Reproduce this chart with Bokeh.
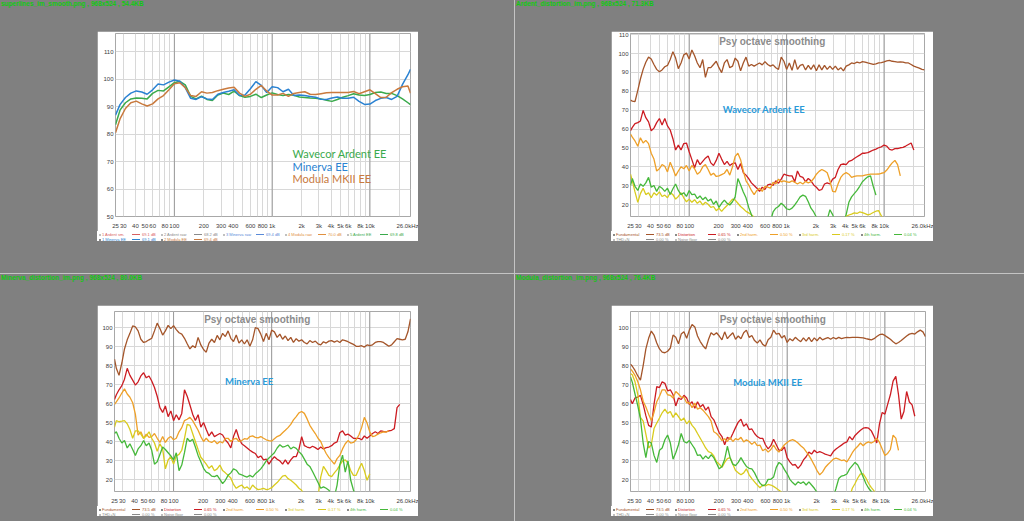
import numpy as np
from bokeh.plotting import figure
from bokeh.layouts import row, column
from bokeh.models import (Div, Spacer, FixedTicker, CustomJSTickFormatter, Span,
                          GlobalInlineStyleSheet)
from bokeh.core.properties import value
from bokeh.embed import file_html
from bokeh.resources import INLINE

N = float("nan")

# ---------------- axis / tick data ----------------
X_TICKS = [25, 30, 40, 50, 60, 80, 100, 200, 300, 400, 600, 800, 1000, 2000, 3000,
           4000, 5000, 6000, 8000, 10000, 26000]
X_MINOR = [70, 90, 500, 700, 900, 7000, 9000, 20000]
DECADES = [100, 1000, 10000]
Y_TICKS_SPL = [50, 60, 70, 80, 90, 100, 110]
Y_TICKS_DIST = [20, 30, 40, 50, 60, 70, 80, 90, 100, 110]

PANEL_TITLES = ["superlines_im_smooth.png , 968x524 , 54.4KB",
                "Ardent_distortion_im.png , 968x524 , 71.3KB",
                "Minerva_distortion_im.png , 968x524 , 80.0KB",
                "Modula_distortion_im.png , 968x524 , 76.4KB"]

# ---------------- top-left: superposition of the three speakers ----------------
TL_FREQ = [25, 27.8, 31.6, 35.9, 40.8, 46.4, 52.7, 59.9, 68.1, 77.4, 88.0, 100, 113.7, 129.2,
           146.8, 166.8, 189.6, 215.4, 244.8, 278.3, 316.2, 359.4, 408.4, 464.2, 527.5, 599.5,
           681.3, 774.3, 879.9, 1000, 1137, 1292, 1468, 1668, 1896, 2154, 2448, 2783, 3162,
           3594, 4084, 4642, 5275, 5995, 6813, 7743, 8799, 10000, 11370, 12920, 14680, 16680,
           18960, 21540, 24480, 26000]
TL_ARDENT = [83.4, 88.7, 91.4, 92.8, 93.1, 93.0, 92.8, 94.8, 95.9, 95.7, 97.2, 98.7, 99.2, 97.9,
             93.7, 92.8, 93.8, 92.6, 92.2, 94.2, 94.9, 94.4, 95.6, 94.0, 93.4, 93.7, 94.5, 93.3,
             94.2, 95.0, 94.4, 94.0, 94.4, 94.1, 93.5, 93.3, 93.1, 93.0, 92.8, 92.3, 91.9, 92.6,
             93.4, 94.0, 94.7, 94.2, 94.0, 94.4, 95.1, 95.3, 94.8, 94.8, 94.0, 92.8, 91.4, 90.7]
TL_MINERVA = [86.9, 90.7, 93.3, 94.9, 95.7, 95.3, 94.5, 96.1, 98.2, 97.9, 98.9, 99.7, 99.2, 96.9,
              93.0, 92.6, 93.6, 92.8, 92.6, 94.5, 95.1, 95.6, 96.1, 94.0, 94.2, 96.5, 99.1, 97.7,
              95.1, 97.2, 96.9, 95.4, 96.3, 94.0, 94.2, 94.0, 93.7, 93.4, 92.7, 92.6, 93.1, 93.5,
              93.0, 93.0, 93.4, 91.9, 90.8, 90.9, 92.2, 93.0, 93.3, 92.6, 93.7, 98.1, 101.6, 103.6]
TL_MODULA = [80.5, 85.5, 89.3, 91.4, 92.0, 91.0, 90.2, 91.0, 92.8, 94.0, 96.1, 98.3, 98.7, 96.9,
             94.0, 93.7, 95.4, 94.9, 95.1, 95.8, 96.3, 96.8, 97.0, 94.9, 93.7, 94.5, 96.3, 97.7,
             95.7, 94.2, 94.2, 94.8, 93.7, 94.8, 95.1, 95.4, 94.5, 94.4, 94.7, 95.0, 95.1, 95.1,
             95.1, 95.1, 95.5, 94.7, 95.4, 96.1, 94.7, 93.3, 93.4, 95.1, 96.3, 97.2, 97.5, 94.9]
TL_NAMES = ["Wavecor Ardent EE", "Minerva EE", "Modula MKII EE"]
TL_LEGEND_ROW1 = ["1 Ardent sm.", "2 Ardent raw", "3 Minerva raw", "4 Modula raw", "5 Ardent EE"]
TL_LEGEND_VALUES = ["69.1 dB", "68.2 dB", "69.4 dB", "70.0 dB", "69.8 dB"]
TL_LEGEND_ROW2 = ["1 Minerva EE", "2 Modula EE"]
TL_LEGEND_VALUES2 = ["69.1 dB", "69.4 dB"]

# ---------------- distortion panels (shared frequency axis) ----------------
DIST_FREQ = [25, 26.1, 27.8, 29.7, 31.6, 33.7, 35.9, 38.3, 40.8, 43.5, 46.4, 49.5, 52.7, 56.2,
             59.9, 63.9, 68.1, 72.6, 77.4, 82.5, 88.0, 93.8, 100, 106.6, 113.7, 121.2, 129.2,
             137.7, 146.8, 156.5, 166.8, 177.8, 189.6, 202.1, 215.4, 229.7, 244.8, 261.0, 278.3,
             296.6, 316.2, 337.1, 359.4, 383.1, 408.4, 435.4, 464.2, 494.8, 527.5, 562.3, 599.5,
             639.1, 681.3, 726.3, 774.3, 825.4, 879.9, 938.0, 1000, 1066, 1137, 1212, 1292, 1377,
             1468, 1565, 1668, 1778, 1896, 2021, 2154, 2297, 2448, 2610, 2783, 2966, 3162, 3371,
             3594, 3831, 4084, 4354, 4642, 4948, 5275, 5623, 5995, 6391, 6813, 7263, 7743, 8254,
             8799, 9380, 10000, 10660, 11370, 12120, 12920, 13770, 14680, 15650, 16680, 17780,
             18960, 20210, 21540, 22970, 24480, 26000]
DIST_NAMES = ["Fundamental", "Distortion", "2nd harm.", "3rd harm.", "4th harm."]
DIST_VALUES = ["73.5 dB", "0.65 %", "0.50 %", "0.17 %", "0.04 %"]
EXTRA_NAMES = ["THD+N", "Noise floor"]
EXTRA_VALUES = ["0.00 %", "0.00 %"]

ARD_FUND = [75.4,
 74.8, 74.5, 80.5, 86.5, 91.6, 95.4, 98.1, 97.1, 94.2, 91.6,
 90.3, 91.3, 93.0, 93.7, 96.8, 101.0, 97.6, 92.0, 95.0, 99.3,
 100.2, 97.1, 101.9, 98.8, 95.0, 92.5, 96.8, 87.4, 92.5, 92.5,
 94.2, 95.9, 92.5, 89.9, 95.0, 96.8, 92.5, 93.3, 97.6, 95.9,
 90.8, 95.0, 98.1, 93.3, 94.2, 93.3, 94.2, 95.0, 94.0, 95.7,
 94.2, 93.3, 94.0, 92.5, 91.6, 98.1, 95.9, 91.6, 95.0, 91.1,
 96.8, 91.6, 93.7, 94.2, 91.3, 93.7, 91.6, 94.0, 90.9, 94.0,
 91.3, 93.7, 91.6, 93.3, 91.6, 93.3, 91.3, 92.5, 90.8, 93.3,
 94.0, 95.0, 94.7, 95.4, 95.0, 95.7, 95.4, 95.0, 94.7, 94.2,
 94.5, 95.0, 95.2, 95.6, 96.1, 96.4, 95.9, 95.7, 95.4, 95.6,
 95.4, 95.0, 95.0, 94.2, 93.3, 92.8, 92.3, 91.6, 91.3]
ARD_THD = [59.1,
 60.9, 62.9, 63.4, 64.3, 69.9, 66.0, 63.8, 59.1, 60.5, 63.4,
 65.6, 62.2, 65.6, 61.7, 59.5, 54.9, 48.9, 51.5, 48.9, 52.3,
 52.6, 48.0, 43.8, 39.5, 43.8, 41.2, 42.9, 44.6, 45.8, 42.1,
 40.7, 43.4, 47.2, 44.1, 41.2, 42.9, 40.7, 41.7, 42.1, 38.6,
 41.7, 36.9, 35.6, 33.8, 31.5, 30.1, 28.7, 27.0, 29.2, 28.0,
 30.4, 30.9, 30.1, 32.6, 31.3, 33.5, 36.1, 35.6, 35.2, 35.2,
 32.1, 37.8, 34.9, 34.4, 32.1, 33.8, 32.6, 30.4, 29.2, 27.5,
 28.0, 30.9, 31.5, 30.9, 33.5, 34.4, 38.6, 41.2, 41.5, 41.2,
 42.9, 43.4, 44.4, 45.3, 46.2, 47.2, 47.2, 47.5, 48.2, 48.9,
 49.4, 50.1, 50.6, 51.5, 51.0, 49.2, 48.9, 49.6, 49.7, 50.1,
 50.3, 51.0, 51.8, 52.6, 48.9, N, N, N, N]
ARD_H2 = [57.4,
 55.7, 53.7, 50.9, 55.4, 52.6, 54.0, 52.3, 47.2, 44.1, 37.8,
 39.0, 41.2, 40.3, 37.3, 42.4, 39.0, 35.2, 37.8, 40.0, 39.0,
 40.7, 37.8, 40.7, 39.0, 36.1, 37.3, 40.0, 41.2, 38.6, 35.6,
 36.6, 34.9, 35.2, 35.9, 36.6, 38.6, 35.6, 40.0, 45.5, 47.2,
 43.8, 37.8, 32.6, 30.4, 27.5, 25.3, 27.5, 28.7, 27.0, 29.7,
 29.2, 28.7, 31.8, 30.9, 33.5, 32.1, 32.5, 32.1, 31.8, 32.6,
 31.8, 30.9, 31.8, 30.9, 32.3, 31.5, 32.1, 33.8, 36.1, 37.6,
 38.6, 37.9, 36.9, 32.6, 27.0, 26.7, 30.9, 34.4, 36.1, 36.9,
 36.1, 34.4, 34.9, 35.2, 35.2, 35.2, 35.6, 35.9, 36.1, 36.1,
 36.1, 36.2, 36.6, 36.9, 38.3, 40.3, 42.1, 43.4, 41.2, 35.2,
 N, N, N, N, N, N, N, N, N]
ARD_H3 = [36.1,
 32.6, 26.7, 21.2, 25.8, 28.7, 25.3, 26.3, 23.6, 26.3, 25.0,
 26.7, 24.3, 25.0, 23.6, 26.3, 25.3, 22.9, 24.3, 26.3, 23.6,
 21.5, 22.9, 21.2, 22.6, 20.7, 21.9, 19.8, 21.2, 20.2, 18.5,
 19.0, 16.8, 18.1, 16.4, 18.1, 19.5, 21.2, 22.9, 22.4, 20.7,
 19.0, 17.8, 16.4, 15.6, 14.7, 13.3, 12.0, 11.0, N, N,
 N, N, N, N, N, N, N, N, N, N,
 N, N, N, N, N, N, N, N, N, N,
 N, N, N, N, N, N, N, N, 11.0, 13.8,
 14.5, 15.0, 15.6, 15.3, 16.1, 15.8, 15.2, 14.6, 15.0, 15.8,
 16.5, 16.8, 14.0, 12.0, N, N, N, N, N, N,
 N, N, N, N, N, N, N, N, N]
ARD_H4 = [30.1,
 33.8, 29.7, 27.5, 30.9, 29.7, 31.5, 34.4, 29.2, 30.1, 27.0,
 29.7, 28.7, 27.0, 28.7, 25.3, 28.4, 30.9, 27.5, 25.3, 26.3,
 24.3, 27.4, 25.3, 25.6, 23.2, 24.6, 22.6, 23.9, 21.9, 22.9,
 20.2, 21.9, 18.5, 20.7, 22.4, 20.7, 19.8, 21.5, 24.1, 33.8,
 30.4, 26.7, 23.6, 18.5, 14.7, 9.6, N, N, N, N,
 N, 11.0, 16.1, 18.1, 19.0, 20.7, 19.5, 17.8, 17.3, 18.1,
 19.8, 21.9, 24.1, 25.0, 24.4, 21.5, 18.1, 16.1, 13.3, 10.0,
 N, N, 12.0, 17.3, 14.7, 11.0, N, N, 11.0, 14.7,
 21.2, 24.1, 25.8, 27.5, 29.7, 32.1, 33.5, 34.7, 35.2, 29.7,
 25.0, N, N, N, N, N, N, N, N, N,
 N, N, N, N, N, N, N, N, N]

MIN_FUND = [83.5,
 78.7, 75.0, 81.5, 88.9, 93.7, 97.1, 101.0, 100.5, 98.4, 94.0,
 92.3, 92.8, 93.7, 94.5, 98.4, 102.5, 99.6, 96.2, 98.4, 101.3,
 99.6, 101.2, 99.1, 97.4, 96.7, 94.5, 91.6, 88.9, 90.6, 89.6,
 95.0, 91.0, 88.6, 87.2, 92.0, 94.0, 92.3, 96.0, 93.7, 97.1,
 95.4, 98.4, 94.5, 92.8, 96.2, 92.0, 93.7, 91.5, 93.7, 90.3,
 93.7, 100.1, 99.6, 96.7, 92.8, 97.1, 93.7, 98.8, 97.9, 95.0,
 96.7, 94.0, 95.7, 93.3, 95.0, 92.3, 94.3, 93.0, 93.7, 92.3,
 91.6, 93.3, 92.3, 93.0, 91.6, 91.0, 92.7, 92.0, 93.0, 93.3,
 92.5, 93.2, 92.3, 93.7, 93.3, 92.7, 92.0, 91.3, 90.3, 90.3,
 90.6, 89.9, 91.0, 90.6, 91.1, 92.3, 92.8, 92.8, 92.3, 91.3,
 90.3, 91.0, 92.7, 94.3, 94.0, 93.7, 94.0, 97.9, 104.7]
MIN_THD = [62.3,
 64.8, 67.4, 69.6, 73.0, 78.7, 75.0, 72.5, 69.9, 71.6, 74.7,
 76.4, 73.7, 74.7, 72.0, 68.6, 64.0, 58.0, 55.5, 58.9, 53.3,
 56.3, 51.2, 54.3, 51.6, 55.0, 67.4, 64.0, 59.4, 54.6, 51.2,
 54.3, 47.8, 50.2, 46.5, 43.1, 45.3, 42.8, 43.6, 44.4, 43.6,
 41.1, 39.4, 36.8, 42.8, 46.5, 41.9, 39.0, 38.0, 36.8, 35.6,
 34.6, 33.9, 31.7, 32.6, 30.5, 30.9, 28.3, 30.5, 32.2, 30.9,
 30.0, 28.3, 30.5, 28.3, 30.5, 32.2, 32.2, 36.0, 42.8, 38.0,
 37.3, 36.8, 37.7, 37.0, 36.0, 37.3, 36.3, 37.0, 37.3, 38.0,
 39.4, 40.0, 44.8, 45.8, 43.6, 44.1, 43.1, 41.9, 41.9, 41.9,
 41.1, 43.1, 41.9, 43.1, 44.4, 45.3, 44.4, 45.8, 45.5, 45.3,
 45.8, 46.1, 47.0, 58.0, 59.7, N, N, N, N]
MIN_H2 = [59.7,
 61.1, 63.1, 65.7, 67.9, 65.2, 63.5, 60.6, 54.6, 43.6, 45.3,
 41.9, 44.1, 42.4, 42.8, 44.4, 41.9, 39.7, 42.8, 39.7, 41.9,
 42.8, 41.1, 41.9, 45.3, 47.5, 51.2, 51.9, 52.9, 51.2, 48.7,
 46.1, 42.8, 40.2, 41.9, 40.2, 39.7, 40.7, 39.0, 40.2, 39.4,
 41.9, 41.9, 40.2, 41.4, 41.9, 40.2, 40.7, 41.7, 41.4, 42.8,
 43.2, 42.4, 42.1, 42.8, 41.9, 41.1, 40.7, 40.4, 41.7, 42.8,
 43.4, 44.8, 46.1, 47.5, 49.2, 51.6, 53.3, 55.3, 56.0, 55.0,
 52.1, 48.7, 46.5, 44.4, 41.9, 40.2, 36.8, 33.9, 31.7, 30.0,
 28.3, 31.2, 32.9, 36.3, 39.0, 40.7, 39.4, 39.7, 41.1, 43.6,
 47.5, 52.9, 49.9, 45.3, 42.8, 43.2, 44.1, 44.8, 45.3, 45.2,
 45.8, N, N, N, N, N, N, N, N]
MIN_H3 = [47.8,
 51.2, 50.6, 50.9, 51.2, 49.5, 46.5, 41.9, 45.8, 45.8, 44.1,
 41.9, 43.1, 45.3, 41.9, 39.4, 35.1, 39.0, 36.3, 25.8, 30.5,
 32.2, 28.3, 32.6, 33.4, 35.6, 41.9, 49.2, 48.7, 44.4, 40.2,
 36.0, 31.9, 30.2, 28.3, 26.1, 27.5, 24.8, 25.8, 27.8, 24.9,
 23.7, 22.4, 21.0, 17.6, 15.6, 16.6, 17.3, 15.6, 16.3, 14.9,
 17.3, 15.9, 14.9, 15.1, 15.6, 14.9, 15.2, 15.9, 17.3, 18.6,
 20.3, 22.0, 22.4, 20.7, 19.8, 18.6, 17.3, 15.6, 14.6, 11.0,
 N, N, N, N, 11.0, 21.5, 27.1, 24.9, 22.4, 21.7,
 23.7, 25.4, 27.8, 30.0, 30.5, 28.8, 24.9, 22.4, 22.4, 25.8,
 28.8, 24.9, 19.8, 23.2, N, N, N, N, N, N,
 N, N, N, N, N, N, N, N, N]
MIN_H4 = [44.4,
 45.3, 41.9, 39.4, 40.7, 36.8, 39.0, 36.0, 32.9, 36.3, 38.0,
 40.7, 38.0, 39.4, 35.6, 28.3, 29.5, 33.4, 37.3, 36.0, 34.3,
 32.6, 30.5, 34.3, 24.9, 27.8, 34.3, 41.9, 40.2, 41.4, 37.3,
 32.9, 29.5, 26.1, 24.1, 23.4, 22.0, 21.7, 22.4, 20.3, 18.0,
 19.8, 22.4, 23.7, 25.8, 25.1, 23.2, 22.7, 22.0, 21.5, 22.4,
 21.5, 23.2, 24.4, 25.8, 27.8, 30.0, 31.5, 32.9, 34.3, 36.8,
 38.5, 37.3, 37.7, 38.3, 36.3, 37.3, 36.6, 34.9, 33.4, 30.9,
 28.3, 27.1, 24.4, 21.5, 18.6, 15.6, 16.3, 15.6, 14.6, 12.0,
 11.0, 17.3, 28.0, 33.0, 24.1, 30.0, 19.8, 14.7, 11.0, N,
 N, N, N, N, N, N, N, N, N, N,
 N, N, N, N, N, N, N, N, N]

MOD_FUND = [80.9,
 79.8, 77.6, 74.7, 72.5, 80.1, 88.9, 94.5, 98.3, 96.2, 92.0,
 88.9, 87.2, 86.9, 87.7, 89.4, 96.2, 95.0, 91.6, 96.7, 97.9,
 94.5, 98.8, 101.8, 100.5, 95.7, 92.8, 90.6, 88.9, 93.7, 97.4,
 96.2, 97.4, 95.7, 93.7, 97.9, 94.3, 96.0, 97.4, 94.0, 95.7,
 94.3, 97.4, 98.8, 95.0, 96.0, 93.3, 92.0, 93.7, 91.3, 90.3,
 93.7, 95.0, 98.8, 96.7, 97.1, 94.7, 96.0, 92.3, 94.3, 93.2,
 95.0, 93.7, 92.7, 94.7, 93.0, 95.0, 92.7, 94.7, 93.2, 95.0,
 93.7, 94.3, 94.9, 94.0, 94.9, 94.2, 95.0, 94.3, 94.7, 95.0,
 94.9, 95.0, 95.0, 95.0, 94.9, 94.7, 94.3, 94.0, 93.7, 94.3,
 95.4, 96.4, 96.7, 96.0, 95.0, 94.0, 92.7, 91.6, 92.3, 93.3,
 94.5, 95.7, 96.7, 97.1, 96.7, 97.9, 98.8, 97.9, 95.4]
MOD_THD = [62.3,
 60.1, 63.1, 63.5, 64.5, 59.7, 53.8, 48.7, 47.8, 59.7, 69.1,
 68.6, 71.6, 70.8, 66.9, 67.4, 64.8, 58.9, 63.1, 62.3, 64.5,
 63.1, 59.7, 61.1, 57.7, 61.1, 58.4, 59.7, 56.7, 58.4, 53.3,
 51.6, 48.2, 44.8, 42.8, 38.5, 42.4, 41.4, 44.4, 47.5, 50.4,
 51.9, 48.2, 49.5, 46.5, 46.8, 44.4, 42.8, 41.9, 41.9, 38.5,
 36.3, 38.0, 41.4, 38.5, 35.6, 35.6, 37.3, 31.7, 29.5, 27.8,
 28.1, 26.1, 27.8, 30.5, 32.2, 34.6, 33.6, 35.6, 34.3, 34.9,
 34.3, 33.6, 33.1, 32.6, 34.9, 36.3, 37.3, 38.3, 39.4, 40.0,
 42.8, 41.1, 43.4, 44.8, 46.1, 47.2, 47.5, 47.2, 45.8, 42.8,
 39.4, 49.5, 55.5, 54.6, 59.7, 64.8, 72.0, 74.5, 64.8, 52.0,
 56.0, 66.5, 61.0, 59.5, 53.5, N, N, N, N]
MOD_H2 = [78.4,
 77.2, 75.0, 71.6, 67.4, 61.4, 58.4, 54.6, 51.2, 55.5, 61.1,
 64.0, 67.4, 67.4, 64.8, 64.5, 63.1, 66.5, 65.2, 63.5, 63.5,
 60.6, 60.6, 58.0, 60.4, 57.2, 58.0, 56.7, 55.0, 53.3, 50.9,
 45.3, 44.4, 42.8, 40.7, 41.7, 40.2, 42.4, 40.2, 41.7, 41.1,
 42.4, 40.0, 41.1, 40.2, 38.7, 40.0, 38.0, 38.3, 35.3, 36.3,
 34.6, 36.0, 38.3, 36.0, 34.6, 36.6, 38.5, 39.7, 40.7, 41.2,
 40.5, 39.4, 38.0, 36.8, 34.9, 32.9, 30.5, 27.8, 24.9, 22.7,
 24.1, 26.5, 28.1, 29.5, 30.9, 31.5, 30.9, 30.2, 30.5, 29.5,
 31.7, 34.3, 36.3, 37.7, 39.4, 38.0, 39.4, 40.0, 39.4, 40.2,
 41.9, 39.7, 36.3, 32.9, 33.9, 36.0, 43.5, 42.0, 35.5, N,
 N, N, N, N, N, N, N, N, N]
MOD_H3 = [75.9,
 75.3, 71.6, 64.8, 52.9, 50.9, 44.1, 36.8, 38.5, 47.0, 49.9,
 52.6, 55.3, 57.2, 55.0, 56.0, 52.9, 55.3, 53.3, 51.2, 52.6,
 49.5, 51.2, 48.7, 47.0, 44.4, 41.9, 39.4, 36.8, 34.9, 34.3,
 32.6, 29.5, 28.3, 26.6, 29.2, 31.2, 31.7, 28.3, 24.9, 23.7,
 22.7, 23.7, 25.8, 22.7, 20.7, 19.0, 17.3, 15.9, 17.3, 16.9,
 17.6, 17.3, 16.6, 15.6, 14.6, 13.5, 11.0, N, N, N,
 N, N, N, N, N, N, N, N, N, N,
 N, N, N, N, N, N, N, N, N, N,
 11.0, 15.6, 18.1, 21.0, 23.2, 23.2, 21.0, 18.1, 15.9, 14.2,
 11.0, N, N, N, N, N, N, N, N, N,
 N, N, N, N, N, N, N, N, N]
MOD_H4 = [74.2,
 71.3, 65.2, 58.9, 52.1, 39.4, 31.7, 40.2, 39.4, 32.9, 29.2,
 35.6, 36.8, 41.1, 43.6, 39.4, 30.9, 34.3, 38.5, 44.4, 40.2,
 39.4, 40.7, 38.5, 36.3, 32.9, 33.2, 30.9, 32.6, 31.2, 33.2,
 31.7, 28.8, 25.8, 27.1, 30.9, 37.7, 31.7, 28.3, 27.5, 29.2,
 31.7, 29.2, 27.1, 26.1, 25.8, 23.7, 20.7, 18.3, 16.9, 17.6,
 20.3, 20.3, 21.5, 26.6, 29.2, 28.1, 25.4, 23.2, 20.3, 18.6,
 17.3, 19.0, 18.1, 19.0, 17.3, 19.0, 17.3, 15.6, 13.5, 11.0,
 N, N, N, N, 11.0, 15.6, 20.7, 22.0, 22.4, 23.1,
 25.8, 27.5, 29.2, 27.8, 24.9, 21.5, 18.1, 15.6, 13.9, 11.0,
 N, N, N, N, N, N, N, N, N, N,
 N, N, N, N, N, N, N, N, N]

for arr in (ARD_FUND, ARD_THD, ARD_H2, ARD_H3, ARD_H4, MIN_FUND, MIN_THD, MIN_H2, MIN_H3,
            MIN_H4, MOD_FUND, MOD_THD, MOD_H2, MOD_H3, MOD_H4):
    assert len(arr) == len(DIST_FREQ), len(arr)
for arr in (TL_ARDENT, TL_MINERVA, TL_MODULA):
    assert len(arr) == len(TL_FREQ), len(arr)

# ---------------- styles ----------------
DIST_COLORS = ["#a4552a", "#cc1c22", "#eea028", "#d9cb1e", "#45b83a"]
TL_COLORS = ["#3aaa4c", "#2a82d2", "#c97a3e"]
GRID = "#d8d8d8"
FONT = "Liberation Sans"

FMT = """
if (tick >= 25000) { return "26.0kHz"; }
if (tick >= 1000) { return (tick / 1000).toFixed(0) + "k"; }
return tick.toFixed(0);
"""


def base_fig(w, h, bl, br, bt, bb, yr, yticks):
    p = figure(width=w, height=h, x_axis_type="log", x_range=(25, 26000), y_range=yr,
               output_backend="svg", toolbar_location=None,
               min_border_left=bl, min_border_right=br, min_border_top=bt, min_border_bottom=bb)
    p.background_fill_color = "white"
    p.border_fill_color = "white"
    p.outline_line_color = "#a8a8a8"
    xt = FixedTicker(ticks=X_TICKS, minor_ticks=X_MINOR)
    yt = FixedTicker(ticks=yticks)
    p.xaxis.ticker = xt
    p.xgrid.ticker = xt
    p.yaxis.ticker = yt
    p.ygrid.ticker = yt
    p.xaxis.formatter = CustomJSTickFormatter(code=FMT)
    for ax in (p.xaxis[0], p.yaxis[0]):
        ax.axis_line_color = None
        ax.major_tick_line_color = None
        ax.minor_tick_line_color = None
        ax.major_tick_out = 0
        ax.major_tick_in = 0
        ax.major_label_text_font = FONT
        ax.major_label_text_font_size = "6px"
        ax.major_label_text_color = "#3c3c3c"
    p.xaxis.major_label_standoff = 2
    p.yaxis.major_label_standoff = 2
    p.xgrid.grid_line_color = GRID
    p.xgrid.minor_grid_line_color = GRID
    p.ygrid.grid_line_color = GRID
    for d in DECADES:
        p.add_layout(Span(location=d, dimension="height", line_color="#9a9a9a",
                          line_width=1, level="underlay"))
    return p


def legend_div(w, h, rows):
    """Small REW-style legend strip under a graph: rows of (label, colour, value, checked)."""
    html = "<div style='padding-left:2px;padding-top:1px'>"
    for r in rows:
        html += "<div style='display:flex;height:5px;line-height:5px;white-space:nowrap'>"
        for label, color, val, checked in r:
            box = "#8a8a8a" if checked else "#c0c0c0"
            html += ("<div style='width:62px;display:flex;align-items:center'>"
                     f"<span style='display:inline-block;width:2px;height:2px;border:1px solid {box};"
                     "margin-right:1px'></span>"
                     f"<span style='color:{color};min-width:28px'>{label}</span>"
                     f"<span style='display:inline-block;width:8px;border-top:1px solid {color};"
                     "margin:0 2px'></span>"
                     f"<span style='color:{color}'>{val}</span></div>")
        html += "</div>"
    html += "</div>"
    return Div(text=html, width=w, height=h, margin=0,
               styles={"background-color": "white", "font-size": "4px",
                       "font-family": FONT})


def dist_card(w, fig_h, leg_h, bl, br, bt, yr, series, name, name_xy):
    p = base_fig(w, fig_h, bl, br, bt, 9, yr, Y_TICKS_DIST)
    for ys, c in zip(series, DIST_COLORS):
        p.line(DIST_FREQ, np.array(ys, dtype=float), line_color=c, line_width=1.3)
    p.text(x=[712], y=[yr[1] - 4.3], text=["Psy octave smoothing"], text_font=value(FONT),
           text_font_style="bold", text_font_size="10px", text_color="#8c8c8c",
           text_align="center", text_baseline="middle")
    p.text(x=[name_xy[0]], y=[name_xy[1]], text=[name], text_font=value("Lato"),
           text_font_style="bold", text_font_size="9.5px", text_color="#2a9ad8",
           text_align="center", text_baseline="middle")
    rows = [[(n, c, v, True) for n, c, v in zip(DIST_NAMES, DIST_COLORS, DIST_VALUES)],
            [(n, "#8a8a8a", v, False) for n, v in zip(EXTRA_NAMES, EXTRA_VALUES)]]
    return column(p, legend_div(w, leg_h, rows))


# ---------------- top-left card ----------------
p_tl = base_fig(321, 200, 18, 8, 2, 9, (50, 116.6), Y_TICKS_SPL)
for ys, c in zip((TL_ARDENT, TL_MINERVA, TL_MODULA), TL_COLORS):
    p_tl.line(TL_FREQ, ys, line_color=c, line_width=1.5)
for txt, yv, c in zip(TL_NAMES, (73.1, 68.2, 63.7), TL_COLORS):
    p_tl.text(x=[1618], y=[yv], text=[txt], text_font=value("Lato"), text_font_size="11px",
              text_color=c, text_align="left", text_baseline="middle")
tl_row1_colors = ["#d86060", "#8a8a8a", "#5a8ad8", "#e09040", "#3aaa4c"]
tl_rows = [[(n, c, v, False) for n, c, v in zip(TL_LEGEND_ROW1, tl_row1_colors, TL_LEGEND_VALUES)],
           [(n, c, v, True) for n, c, v in zip(TL_LEGEND_ROW2, TL_COLORS[1:], TL_LEGEND_VALUES2)]]
card_tl = column(p_tl, legend_div(321, 10, tl_rows))

card_tr = dist_card(322, 200, 10, 19, 9, 2, (13.7, 110.6),
                    (ARD_FUND, ARD_THD, ARD_H2, ARD_H3, ARD_H4), "Wavecor Ardent EE", (585, 70.6))
card_bl = dist_card(321, 201, 10, 17, 8, 6, (13.9, 108.6),
                    (MIN_FUND, MIN_THD, MIN_H2, MIN_H3, MIN_H4), "Minerva EE", (589, 71.6))
card_br = dist_card(322, 201, 10, 19, 8, 6, (13.9, 108.6),
                    (MOD_FUND, MOD_THD, MOD_H2, MOD_H3, MOD_H4), "Modula MKII EE", (632, 71.1))

# ---------------- page layout ----------------
TITLE_STYLE = {"color": "#12c812", "font-family": FONT, "font-weight": "bold",
               "font-size": "6.5px", "line-height": "8px", "white-space": "nowrap",
               "padding-left": "1px"}
LINE_STYLE = {"background-color": "#c4c4c4"}


def title_div(t, w):
    return Div(text=t, width=w, height=9, margin=0, styles=TITLE_STYLE)


q_tl = column(title_div(PANEL_TITLES[0], 514), Spacer(width=514, height=22),
              row(Spacer(width=97, height=210), card_tl), Spacer(width=514, height=32))
q_tr = column(title_div(PANEL_TITLES[1], 509), Spacer(width=509, height=22),
              row(Spacer(width=96, height=210), card_tr), Spacer(width=509, height=32))
q_bl = column(title_div(PANEL_TITLES[2], 514), Spacer(width=514, height=22),
              row(Spacer(width=97, height=211), card_bl), Spacer(width=514, height=5))
q_br = column(title_div(PANEL_TITLES[3], 509), Spacer(width=509, height=22),
              row(Spacer(width=96, height=211), card_br), Spacer(width=509, height=5))

top = row(q_tl, Spacer(width=1, height=273, styles=LINE_STYLE), q_tr)
hline = Spacer(width=1024, height=1, styles=LINE_STYLE)
bottom = row(q_bl, Spacer(width=1, height=247, styles=LINE_STYLE), q_br)

root = column(top, hline, bottom, width=1024, height=521,
              styles={"background-color": "#808080"})
root.stylesheets = [GlobalInlineStyleSheet(css="html, body { background-color: #808080; margin: 0; }")]

open("out.html", "w").write(file_html(root, INLINE))
